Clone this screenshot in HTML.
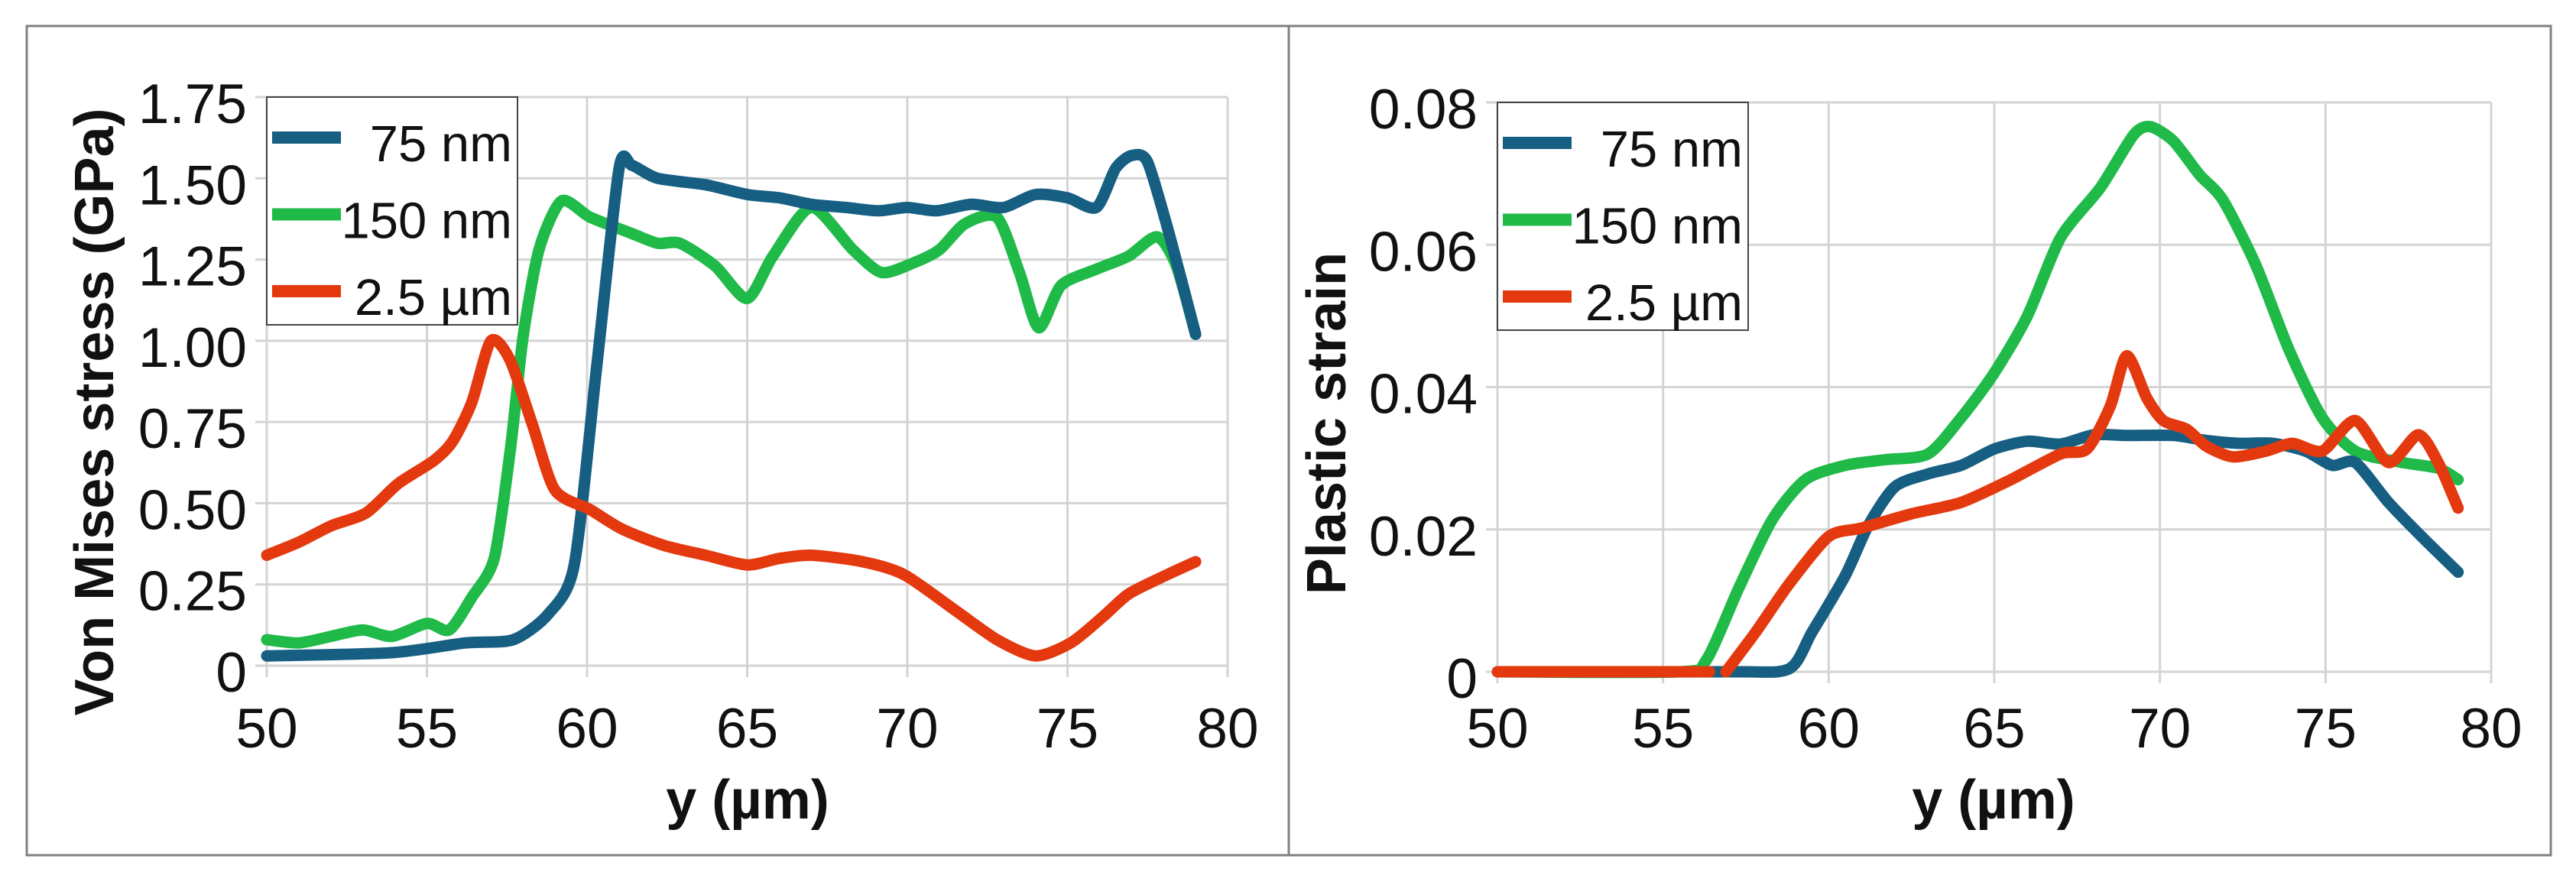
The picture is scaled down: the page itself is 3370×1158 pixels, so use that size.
<!DOCTYPE html>
<html><head><meta charset="utf-8"><style>
html,body{margin:0;padding:0;background:#fff}
svg{display:block}
text{font-family:"Liberation Sans",Arial,sans-serif;fill:#111}
</style></head><body>
<svg id="fig" xmlns="http://www.w3.org/2000/svg" width="3370" height="1158" viewBox="0 0 3370 1158">
<rect x="35" y="34" width="3302" height="1085" fill="#fff" stroke="#808080" stroke-width="3"/>
<line x1="1686" y1="34" x2="1686" y2="1119" stroke="#808080" stroke-width="3"/>
<g id="left"></g>
<g id="right"></g>
</svg>
<script>
const NS="http://www.w3.org/2000/svg";
const seriesNames=["75 nm","150 nm","2.5 µm"];
const seriesColors=["#175f82","#1fba48","#e4390f"];
const xTicks=[50,55,60,65,70,75,80];
// Left chart data (Von Mises stress, GPa)
const stressTicks=[0,0.25,0.5,0.75,1.0,1.25,1.5,1.75];
const stressTickLabels=["0","0.25","0.50","0.75","1.00","1.25","1.50","1.75"];
const stressX75=[50,53.9,56.2,57.7,58.8,59.6,60.3,61,61.4,62.2,63.7,65,66,67,68.1,69.1,70,70.9,72,73,74,75,75.9,76.5,77,77.5,78.2,79];
const stressY75=[0.03,0.04,0.07,0.08,0.16,0.31,0.92,1.53,1.54,1.50,1.48,1.45,1.44,1.42,1.41,1.40,1.41,1.40,1.42,1.41,1.45,1.44,1.41,1.53,1.57,1.55,1.32,1.02];
const stressX150=[50,51,52,53,53.9,55,55.7,56.4,57.1,57.6,58,58.5,59.2,60.1,61.4,62.2,62.9,64,65,65.8,67,68.3,69.2,70.2,71,71.8,72.8,73.5,74.1,74.8,75.9,76.9,77.8,78.4,79];
const stressY150=[0.08,0.07,0.09,0.11,0.09,0.13,0.11,0.21,0.33,0.66,1.01,1.28,1.43,1.38,1.33,1.30,1.30,1.23,1.13,1.26,1.41,1.28,1.21,1.24,1.28,1.36,1.38,1.21,1.04,1.17,1.22,1.26,1.32,1.23,1.02];
const stressX25=[50,51,52,53.1,54.1,55.2,55.8,56.4,57,57.6,58.3,59,60.1,61.1,62.4,63.7,65,66,67,68.6,69.9,71.5,72.8,74,75.1,76.1,76.9,77.9,79];
const stressY25=[0.34,0.38,0.43,0.47,0.56,0.63,0.69,0.81,1.0,0.94,0.74,0.54,0.48,0.42,0.37,0.34,0.31,0.33,0.34,0.32,0.28,0.17,0.08,0.03,0.07,0.15,0.22,0.27,0.32];
// Right chart data (plastic strain)
const strainTicks=[0,0.02,0.04,0.06,0.08];
const strainTickLabels=["0","0.02","0.04","0.06","0.08"];
const strainX75=[50,57,58.8,59.5,60.5,61.2,62,63,64,65,66,67,68,69,70.4,71.4,72.4,73.4,74.4,75.2,75.9,76.9,77.9,79];
const strainY75=[0,0,0.0004,0.0056,0.0135,0.0206,0.026,0.0278,0.029,0.0313,0.0324,0.032,0.0333,0.0332,0.0332,0.0325,0.0321,0.0321,0.031,0.029,0.0294,0.0238,0.019,0.014];
const strainX150=[50,55.5,56.3,57.3,58.3,59.3,60.5,61.7,63,64,65,66,67,68.2,69.2,69.7,70.4,71.2,71.9,72.9,73.9,74.9,75.9,77.2,78.4,79];
const strainY150=[0,0,0.0016,0.0119,0.0214,0.027,0.029,0.0298,0.0306,0.0357,0.042,0.05,0.061,0.068,0.0754,0.0766,0.0746,0.0698,0.0663,0.0571,0.0452,0.0357,0.031,0.0295,0.0286,0.027];
const strainX25a=[50,56.4];
const strainY25a=[0,0];
const strainX25=[56.9,57.8,58.8,60,61,62.5,64,65.5,67,67.8,68.5,69,69.6,70.1,70.8,71.4,72.2,73.2,74,74.9,75.9,76.9,77.8,78.4,79];
const strainY25=[0,0.0056,0.0123,0.019,0.0202,0.0222,0.0238,0.027,0.0306,0.0313,0.0373,0.0444,0.0385,0.0353,0.0341,0.0317,0.0302,0.031,0.0321,0.031,0.0353,0.0294,0.0333,0.0294,0.023];

function el(tag,attrs,parent){const e=document.createElementNS(NS,tag);for(const k in attrs)e.setAttribute(k,attrs[k]);parent.appendChild(e);return e;}
function smooth(pts){
  if(pts.length<3)return "M"+pts.map(p=>p[0].toFixed(1)+","+p[1].toFixed(1)).join("L");
  const k=8;
  let d="M"+pts[0][0].toFixed(1)+","+pts[0][1].toFixed(1);
  for(let i=0;i<pts.length-1;i++){
    const p0=pts[i-1]||pts[i],p1=pts[i],p2=pts[i+1],p3=pts[i+2]||p2;
    const c1=[p1[0]+(p2[0]-p0[0])/k,p1[1]+(p2[1]-p0[1])/k];
    const c2=[p2[0]-(p3[0]-p1[0])/k,p2[1]-(p3[1]-p1[1])/k];
    d+="C"+c1[0].toFixed(1)+","+c1[1].toFixed(1)+" "+c2[0].toFixed(1)+","+c2[1].toFixed(1)+" "+p2[0].toFixed(1)+","+p2[1].toFixed(1);
  }
  return d;
}
function chart(g,cfg){
  const xs=v=>cfg.x0+(v-50)/30*(cfg.x1-cfg.x0);
  const ys=v=>cfg.y0-(v/cfg.ymax)*(cfg.y0-cfg.y1);
  cfg.yTicks.forEach((t,i)=>{
    const y=ys(t);
    const gl=el("line",{x1:cfg.x0-15,y1:y,x2:cfg.x1,y2:y,stroke:"#d4d4d4","stroke-width":3},g);
    
    
    const tx=el("text",{x:cfg.x0-26,y:y+34,"font-size":73,"text-anchor":"end"},g);
    tx.textContent=cfg.yLabels[i];
    
    
  });
  xTicks.forEach(t=>{
    const x=xs(t);
    const gl=el("line",{x1:x,y1:cfg.y1,x2:x,y2:cfg.y0+15,stroke:"#d4d4d4","stroke-width":3},g);
    
    
    const tx=el("text",{x:x,y:978,"font-size":73,"text-anchor":"middle"},g);
    tx.textContent=String(t);
    
    
  });
  cfg.series.forEach(s=>{
    const pts=s.x.map((v,i)=>[xs(v),ys(s.y[i])]);
    const p=el("path",{d:smooth(pts),fill:"none",stroke:s.color,"stroke-width":15,"stroke-linecap":"round","stroke-linejoin":"round"},g);
    
    
  });
  const lx=cfg.x0,ly=cfg.y1;
  const box=el("rect",{x:lx,y:ly,width:328,height:298,fill:"#fff",stroke:"#444","stroke-width":2},g);
  
  
  seriesNames.forEach((n,i)=>{
    const cy=ly+53+i*100.5;
    const sw=el("rect",{x:lx+7,y:cy-8,width:90,height:16,fill:seriesColors[i]},g);
    
    
    const t=el("text",{x:lx+321,y:cy+31,"font-size":67,"text-anchor":"end"},g);
    t.textContent=n;
    
    
  });
  const xt=el("text",{x:cfg.xtx,y:1071,"font-size":72,"font-weight":"bold","text-anchor":"middle"},g);
  xt.textContent="y (µm)";
  
  
  const yt=el("text",{x:0,y:0,"font-size":72,"font-weight":"bold","text-anchor":"middle",transform:"translate("+cfg.ytx+","+cfg.yty+") rotate(-90)"},g);
  yt.textContent=cfg.ytitle;
  
  
}
chart(document.getElementById("left"),{x0:349,x1:1606,y0:871,y1:127,ymax:1.75,yTicks:stressTicks,yLabels:stressTickLabels,
  xtx:978,ytx:148,yty:539,ytitle:"Von Mises stress (GPa)",
  series:[{name:"line-150nm",color:seriesColors[1],x:stressX150,y:stressY150},{name:"line-75nm",color:seriesColors[0],x:stressX75,y:stressY75},{name:"line-2.5um",color:seriesColors[2],x:stressX25,y:stressY25}]});
chart(document.getElementById("right"),{x0:1959,x1:3259,y0:879,y1:134,ymax:0.08,yTicks:strainTicks,yLabels:strainTickLabels,
  xtx:2608,ytx:1760,yty:554,ytitle:"Plastic strain",
  series:[{name:"line-150nm",color:seriesColors[1],x:strainX150,y:strainY150},{name:"line-75nm",color:seriesColors[0],x:strainX75,y:strainY75},{name:"line-2.5um-zero",color:seriesColors[2],x:strainX25a,y:strainY25a},{name:"line-2.5um",color:seriesColors[2],x:strainX25,y:strainY25}]});
</script>
</body></html>
